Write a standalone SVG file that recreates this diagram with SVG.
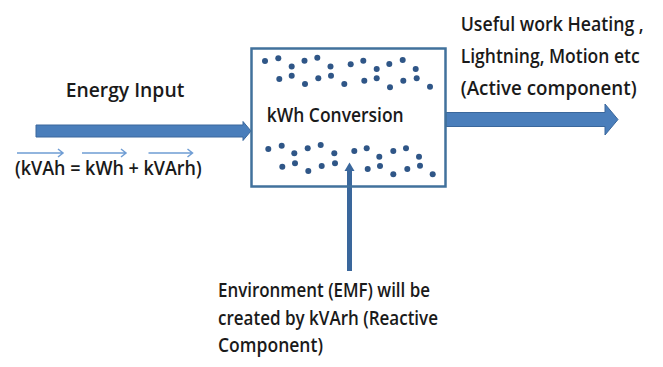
<svg xmlns="http://www.w3.org/2000/svg" width="663" height="367" viewBox="0 0 663 367">
<style>
.t{font-family:"Open Sans","Liberation Sans",Arial,sans-serif;font-weight:600;font-size:20px;fill:#1a1a1a}
.blk{fill:#4A7EBB;stroke:#3A679C;stroke-width:1}
.dot{fill:#2F5687}
.vec{fill:none;stroke:#6F9DD4;stroke-width:1.5}
</style>
<defs>
<circle id="d" r="3" class="dot"/>
</defs>
<rect width="663" height="367" fill="#ffffff"/>
<g id="connectors">
<polygon id="input-arrow" class="blk" points="36,125 243,125 243,121.5 251,131 243,140.5 243,137 36,137"/>
<polygon id="output-arrow" class="blk" points="446,112.5 605,112.5 605,104 618,119.5 605,135 605,126.5 446,126.5"/>
<g id="reactive-arrow">
<line x1="349.5" y1="271" x2="349.5" y2="169" stroke="#3A679C" stroke-width="5"/>
<polygon points="344.5,171 349.5,162.5 354.5,171" fill="#3A679C"/>
</g>
</g>
<g id="box">
<rect x="251.5" y="48.5" width="194" height="138" fill="none" stroke="#41719C" stroke-width="2.5"/>
<g id="dots-top">
<use href="#d" x="265" y="61"/><use href="#d" x="278.3" y="58.3"/><use href="#d" x="291.7" y="66.5"/><use href="#d" x="304.5" y="60.7"/><use href="#d" x="317.3" y="57.7"/><use href="#d" x="330.5" y="66.5"/>
<use href="#d" x="350.7" y="64.3"/><use href="#d" x="363.3" y="60.7"/><use href="#d" x="376.7" y="69"/><use href="#d" x="389.3" y="64"/><use href="#d" x="402.7" y="60"/><use href="#d" x="415.7" y="69"/>
<use href="#d" x="279.3" y="79"/><use href="#d" x="291.7" y="75.7"/><use href="#d" x="305" y="84"/><use href="#d" x="318.3" y="78.3"/><use href="#d" x="331" y="75.7"/><use href="#d" x="344.3" y="84"/>
<use href="#d" x="364.3" y="80.7"/><use href="#d" x="376.7" y="78.3"/><use href="#d" x="390" y="87.3"/><use href="#d" x="403.3" y="80.7"/><use href="#d" x="416.7" y="78.3"/><use href="#d" x="430" y="86.7"/>
</g>
<g id="dots-bottom">
<use href="#d" x="268.3" y="149"/><use href="#d" x="281.7" y="145.7"/><use href="#d" x="294.3" y="153.3"/><use href="#d" x="307.7" y="148.3"/><use href="#d" x="320.7" y="145"/><use href="#d" x="334.3" y="153.3"/>
<use href="#d" x="354.3" y="151"/><use href="#d" x="366.7" y="148.3"/><use href="#d" x="379.3" y="156.7"/><use href="#d" x="393.3" y="151"/><use href="#d" x="406" y="148.3"/><use href="#d" x="419" y="156.7"/>
<use href="#d" x="282.3" y="166.7"/><use href="#d" x="295" y="163.3"/><use href="#d" x="308.3" y="171"/><use href="#d" x="321.7" y="166"/><use href="#d" x="335" y="163.3"/>
<use href="#d" x="367.7" y="169"/><use href="#d" x="380" y="166"/><use href="#d" x="393.3" y="174.3"/><use href="#d" x="407.3" y="169"/><use href="#d" x="420" y="165.7"/><use href="#d" x="432.7" y="174.3"/>
</g>
<text class="t" x="266.7" y="121.7" textLength="137" lengthAdjust="spacingAndGlyphs">kWh Conversion</text>
</g>
<g id="energy-input">
<text class="t" x="65.7" y="96.7" textLength="118.6" lengthAdjust="spacingAndGlyphs">Energy Input</text>
<text class="t" x="15" y="175" textLength="186.7" lengthAdjust="spacingAndGlyphs">(kVAh = kWh + kVArh)</text>
<g id="vectors">
<path class="vec" d="M17,153 H63 M58,149 L63,153 L58,157"/>
<path class="vec" d="M82,153 H126 M121,149 L126,153 L121,157"/>
<path class="vec" d="M148.5,153 H192.5 M187.5,149 L192.5,153 L187.5,157"/>
</g>
</g>
<g id="useful-work">
<text class="t" x="460.7" y="31" textLength="183" lengthAdjust="spacingAndGlyphs">Useful work Heating ,</text>
<text class="t" x="460.7" y="63.3" textLength="179" lengthAdjust="spacingAndGlyphs">Lightning, Motion etc</text>
<text class="t" x="460.7" y="95" textLength="176" lengthAdjust="spacingAndGlyphs">(Active component)</text>
</g>
<g id="environment">
<text class="t" x="218" y="297.3" textLength="212" lengthAdjust="spacingAndGlyphs">Environment (EMF) will be</text>
<text class="t" x="218" y="325" textLength="220" lengthAdjust="spacingAndGlyphs">created by kVArh (Reactive</text>
<text class="t" x="218" y="351.7" textLength="105" lengthAdjust="spacingAndGlyphs">Component)</text>
</g>
</svg>
